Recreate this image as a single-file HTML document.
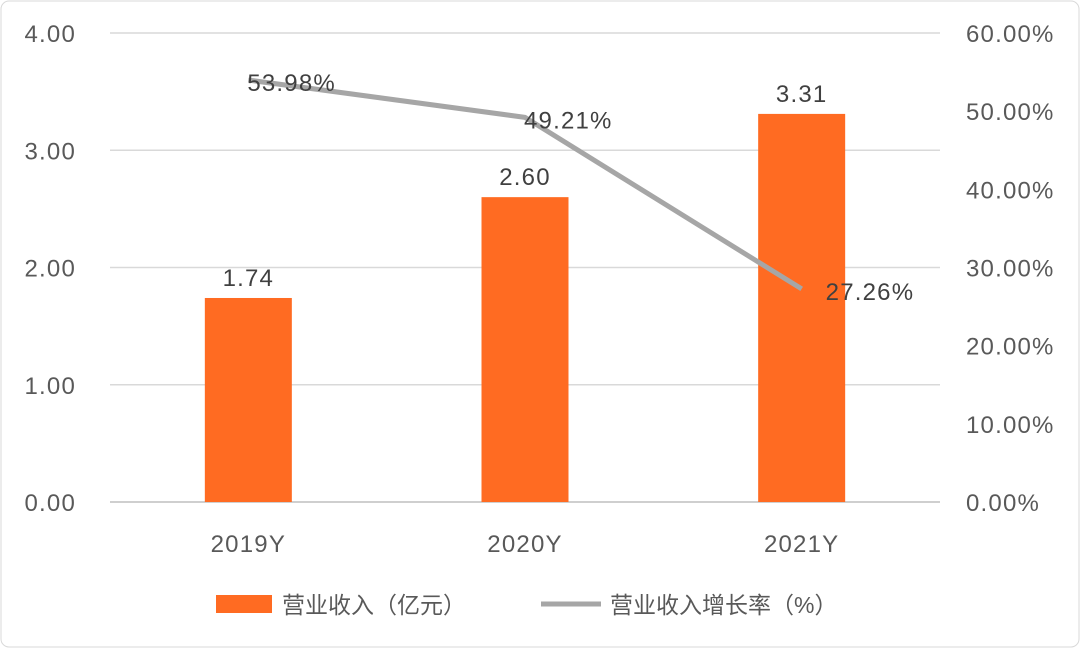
<!DOCTYPE html>
<html><head><meta charset="utf-8"><style>
html,body{margin:0;padding:0;background:#fff;}
svg{display:block;font-family:"Liberation Sans","Noto Sans CJK SC",sans-serif;}
text{letter-spacing:1.2px;}
</style></head><body>
<svg id="chart" width="1080" height="648" viewBox="0 0 1080 648">
<rect x="1" y="1" width="1078" height="646" rx="8" fill="#fff" stroke="#d9d9d9"/>
<g id="grid"></g><g id="bars"></g><g id="line"></g><g id="labels"></g><g id="axes"></g>
<g>
<rect x="216" y="595" width="56" height="18" fill="#ff6b22"/>
<text x="282" y="613" font-size="23" fill="#595959" style="letter-spacing:0">营业收入（亿元）</text>
<line x1="541" y1="604" x2="601" y2="604" stroke="#a6a6a6" stroke-width="5"/>
<text x="610" y="613" font-size="23" fill="#595959" style="letter-spacing:0">营业收入增长率（%）</text>
</g>
</svg>
<script>
const categories=["2019Y","2020Y","2021Y"];
const revenue=[1.74,2.60,3.31];
const growth=[53.98,49.21,27.26];
const leftTicks=[0,1,2,3,4];
const rightTicks=[0,10,20,30,40,50,60];
const NS="http://www.w3.org/2000/svg";
const X0=110,X1=940,Y0=502,Y1=33;
const band=(X1-X0)/categories.length;
const xc=i=>X0+band*(i+0.5);
const yL=v=>Y0-(v/4)*(Y0-Y1);
const yR=v=>Y0-(v/60)*(Y0-Y1);
function mk(tag,attrs,parent,text){const e=document.createElementNS(NS,tag);for(const k in attrs)e.setAttribute(k,attrs[k]);if(text!==undefined)e.textContent=text;document.getElementById(parent).appendChild(e);return e;}
leftTicks.forEach(t=>{
  const l=mk('line',{x1:X0,x2:X1,y1:yL(t),y2:yL(t),stroke:t===0?'#bfbfbf':'#d9d9d9','stroke-width':1.5},'grid');
  
  
  const tx=mk('text',{x:76,y:yL(t)+9,'font-size':24,fill:'#595959','text-anchor':'end'},'axes',t.toFixed(2));
  
  
});
rightTicks.forEach(t=>{
  const tx=mk('text',{x:966,y:yR(t)+9,'font-size':24,fill:'#595959'},'axes',t.toFixed(2)+'%');
  
  
});
categories.forEach((c,i)=>{
  const tx=mk('text',{x:xc(i),y:552,'font-size':24,fill:'#595959','text-anchor':'middle'},'axes',c);
  
  
});
const bw=87;
revenue.forEach((v,i)=>{
  const r=mk('rect',{x:xc(i)-bw/2,y:yL(v),width:bw,height:Y0-yL(v),fill:'#ff6b22'},'bars');
  
  
  const t=mk('text',{x:xc(i),y:yL(v)-12,'font-size':24,fill:'#404040','text-anchor':'middle'},'labels',v.toFixed(2));
  
  
});
const pts=growth.map((v,i)=>xc(i)+','+yR(v)).join(' ');
const pl=mk('polyline',{points:pts,fill:'none',stroke:'#a6a6a6','stroke-width':5,'stroke-linejoin':'round'},'line');


growth.forEach((v,i)=>{
  const last=i===growth.length-1;
  const t=mk('text',{x:xc(i)+(last?24:-1),y:yR(v)+11,'font-size':24,fill:'#404040'},'labels',v.toFixed(2)+'%');
  
  
});
</script>
</body></html>
